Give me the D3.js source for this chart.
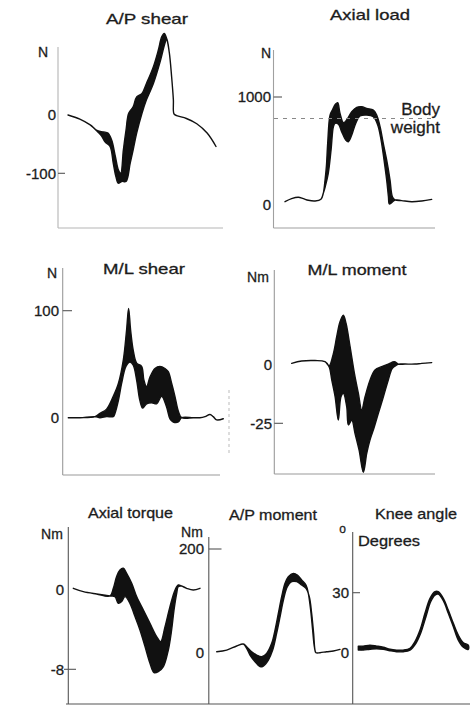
<!DOCTYPE html>
<html><head><meta charset="utf-8">
<script src="https://cdn.jsdelivr.net/npm/d3@7"></script>
<style>
html,body{margin:0;padding:0;background:#fff;}
svg{display:block;}
text{font-family:"Liberation Sans",Arial,Helvetica,sans-serif;fill:#1c1c1c;stroke:#1c1c1c;stroke-width:0.3px;}
</style></head><body>
<svg id="chart" width="470" height="706"></svg>
<script>
// ---- data: [percent of cycle, value] ----
const gaitDomain = [0, 100];

const apShearUpper = [[0,0],[8,-7],[15,-17],[20,-27],[24,-29],[27,-31],[29.5,-43],[32,-71],[34,-94],[35.6,-100],[37.4,-60],[39.2,-26],[41,3],[44,14],[46.4,31],[50,37],[53,54],[57.7,83],[61,111],[63.3,134],[65,140],[66.7,131],[68.5,106],[70,66],[71.2,26],[71.6,2],[73.4,-1],[80,-6],[87,-15],[94,-31],[100,-54]];
const apShearLower = [[0,0],[8,-7],[15,-17],[20.5,-30],[22.7,-36],[25,-46],[28.4,-54],[30.6,-83],[32.4,-106],[34,-117],[36.3,-114],[39.2,-114],[42,-83],[44,-60],[46.4,-31],[50,3],[53,26],[57.7,54],[62,89],[65.5,123],[66.7,131],[68.5,106],[70,66],[71.2,26],[71.6,2],[73.4,-1],[80,-6],[87,-15],[94,-31],[100,-54]];
const apShearTicks = [0, -100];

const axialLoadUpper = [[0,26],[4.5,54],[9.1,67],[12.5,54],[15.9,39],[20.5,33],[24.5,48],[26.1,104],[27.3,228],[28.2,352],[29.1,569],[30.7,832],[32.3,879],[34.5,935],[35.9,947],[37.5,848],[39.8,761],[42,786],[45.5,863],[48.9,904],[52.3,910],[55.7,894],[60.2,879],[62.5,832],[64.8,724],[67,569],[69.3,414],[71.6,228],[73.2,73],[75,42],[79.5,36],[86.4,26],[93.2,33],[100,48]];
const axialLoadLower = [[0,26],[4.5,54],[9.1,67],[12.5,54],[15.9,39],[20.5,33],[24.5,48],[26.1,104],[27.5,170],[29.5,290],[31.4,507],[33,724],[34.1,755],[36.4,748],[38.6,678],[41.4,600],[43.2,584],[45.5,646],[48.2,755],[51.1,823],[55.7,832],[60.2,817],[63.2,740],[65.5,600],[67.5,414],[69.3,228],[70.5,73],[71.1,5],[72.7,17],[75,42],[79.5,36],[86.4,26],[93.2,33],[100,48]];
const axialLoadTicks = [0, 1000];
const bodyWeight = [800];

const mlShearUpper = [[0,0],[7.5,0],[17.2,1],[20.4,4],[24.7,8],[29,20],[32.3,32],[35.5,54],[37.6,82],[38.9,102],[40.2,82],[41.9,63],[44.1,51],[47.3,48],[48.8,35],[50.5,29],[52.7,38],[55.9,46],[59.1,48],[62.4,46],[64.5,43],[66.7,32],[68.8,20],[71,6],[73.1,0],[80.6,0],[84.9,0],[88.2,1],[91.4,3],[93.5,1],[95.7,-2],[100,-1]];
const mlShearLower = [[0,0],[7.5,0],[17.2,1],[20.4,0],[24.7,1],[29,1],[30.1,4],[32.3,16],[34.4,32],[37.2,48],[39.8,52],[41.9,49],[44.1,35],[46.2,16],[48,9],[50.5,13],[53.8,14],[57,13],[60.2,20],[63.4,10],[65.6,-1],[67.7,-4],[71,-4],[73.1,0],[80.6,0],[84.9,0],[88.2,1],[91.4,3],[93.5,1],[95.7,-2],[100,-1]];
const mlShearTicks = [0, 100];

const mlMomentUpper = [[0,0.7],[7.1,1.7],[16.7,1.9],[23.8,1.4],[26.7,-0.4],[29.8,5],[32.1,12],[34.5,18.6],[36.9,21.4],[38.8,17.9],[41.7,7.9],[44.8,-3.6],[47.6,-12.1],[50,-19.3],[52.4,-13.6],[56,-6.4],[59.5,-2.1],[64.3,-0.7],[69,0.4],[73.3,1.4],[76.2,0.4],[81,0.4],[88.1,0.4],[92.9,0.7],[100,1]];
const mlMomentLower = [[0,0.7],[7.1,1.7],[16.7,1.9],[23.8,1.4],[26.7,-0.7],[28.6,-6.4],[31,-13.6],[33.3,-23.6],[35.2,-13.6],[36.9,-12.1],[39.3,-17.9],[40.5,-25.7],[42.9,-23.6],[45.2,-29.3],[48.1,-36.4],[51.2,-46],[53.6,-37.9],[56,-32],[58.3,-27.9],[61.9,-20.7],[65.5,-13.6],[69,-6.4],[71.9,-1.4],[75,0],[76.2,0.4],[81,0.4],[88.1,0.4],[92.9,0.7],[100,1]];
const mlMomentTicks = [0, -25];

const axialTorqueUpper = [[0,0.1],[7.9,-0.23],[18.4,-0.47],[28.9,-0.67],[31.6,0.1],[34.2,1.27],[36.8,1.93],[39.5,2.1],[42.1,1.6],[46.1,0.6],[50,-0.73],[55.3,-2.07],[60.5,-3.4],[65.8,-4.73],[68.9,-5.23],[72.4,-3.73],[76.3,-1.73],[80.3,-0.07],[82.9,0.43],[85.5,0.33],[89.5,0.1],[94.7,-0.07],[100,0.1]];
const axialTorqueLower = [[0,0.1],[7.9,-0.23],[18.4,-0.47],[28.9,-0.67],[32.9,-0.73],[35.5,-1.4],[38.2,-1.23],[40.8,-0.73],[44.7,-1.4],[48.7,-2.73],[52.6,-4.07],[56.6,-5.73],[60.5,-7.4],[63.7,-8.33],[67.1,-8.23],[71.1,-7.73],[75,-6.07],[77.6,-4.07],[79.5,-2.07],[81.6,-0.4],[82.9,0.27],[85.5,0.33],[89.5,0.1],[94.7,-0.07],[100,0.1]];
const axialTorqueTicks = [0, -8];

const apMomentUpper = [[0,1.9],[8.1,5.1],[16.2,12.9],[21.6,16.7],[24.3,11.6],[28.4,1.9],[32.4,-4.5],[36.5,-7.7],[40.5,-1.3],[44.6,18],[47.3,43.7],[50,75.9],[52.7,108],[55.4,133.8],[58.1,146.6],[62.2,153],[65.4,149.8],[68.9,140.2],[72.4,130.5],[74.3,114.5],[76.2,82.3],[77.8,43.7],[79.2,11.6],[80.5,0],[83.8,0],[89.2,1.9],[94.6,3.2],[100,6.4]];
const apMomentLower = [[0,1.9],[8.1,5.1],[16.2,12.9],[21.6,16.7],[24.3,8.4],[27,-4.5],[31.1,-17.4],[35.1,-27],[37.8,-25.7],[41.9,-14.1],[45.4,5.1],[48.6,37.3],[51.4,69.5],[54.1,101.6],[57.3,127.3],[60.8,137],[64.9,137],[68.9,130.5],[72.4,124.1],[75.1,108],[77,75.9],[78.6,37.3],[79.7,5.1],[80.5,0],[83.8,0],[89.2,1.9],[94.6,3.2],[100,6.4]];
const apMomentTicks = [0, 200];

const kneeAngleUpper = [[0,3.3],[4.5,3.3],[10.6,3.8],[16.7,3.3],[22.7,2.7],[28.8,1.7],[34.8,1.3],[40.9,1.3],[47,2.2],[51.5,5.5],[56.1,11.3],[60.6,19.7],[65.2,27.2],[69.7,30.5],[72.7,30.5],[77.3,27.2],[81.8,21.3],[86.4,14.7],[90.9,8.8],[95.5,5],[100,3.8]];
const kneeAngleLower = [[0,1.3],[4.5,1.3],[10.6,1.7],[16.7,2],[22.7,1.7],[28.8,1],[34.8,0.5],[40.9,0.5],[47,1.3],[52.4,4.7],[56.7,9.7],[61.5,18],[65.8,25.5],[69.7,28.8],[72.7,29.3],[77.3,26],[81.8,19.7],[86.4,13],[90.9,6.3],[95.5,2.7],[100,1.7]];
const kneeAngleTicks = [0, 30];

// ---- layout ----
const panels = [
  {title:"A/P shear", tp:[147,24,82], unit:"N", up:[43,57], axX:58, axY:[47,228],
   xr:[68,216], yr:[115,173.3], ticks:apShearTicks, mark:1, lr:56, tl:[58,65],
   upper:apShearUpper, lower:apShearLower, ac:"#b5b5b5", base:[228,58,223]},
  {title:"Axial load", tp:[370,20,80], unit:"N", up:[266,58], axX:273.5, axY:[50,228],
   xr:[285,431.7], yr:[204.5,97], ticks:axialLoadTicks, mark:1, lr:271, tl:[273.5,282],
   upper:axialLoadUpper, lower:axialLoadLower, ac:"#a0a0a0", base:[228,273.5,435]},
  {title:"M/L shear", tp:[144,274,82], unit:"N", up:[52,278], axX:62.7, axY:[268,475],
   xr:[68.3,223.3], yr:[417.7,310.7], ticks:mlShearTicks, mark:1, lr:59, tl:[62.7,72],
   upper:mlShearUpper, lower:mlShearLower, ac:"#9a9a9a", base:[475,62.7,220]},
  {title:"M/L moment", tp:[357,275,99], unit:"Nm", up:[258,282], axX:274.3, axY:[270,474],
   xr:[291.7,431.7], yr:[365,423.3], ticks:mlMomentTicks, mark:1, lr:272, tl:[274.3,283],
   upper:mlMomentUpper, lower:mlMomentLower, ac:"#9a9a9a", base:[474,274.3,435]},
  {title:"Axial torque", tp:[130.5,518,85], unit:"Nm", up:[52,539], axX:68.3, axY:[527,704],
   xr:[73.3,200], yr:[589.3,669.3], ticks:axialTorqueTicks, mark:1, lr:64, tl:[64,76],
   upper:axialTorqueUpper, lower:axialTorqueLower, ac:"#555", base:null},
  {title:"A/P moment", tp:[273,520,88], unit:"Nm", up:[192,537], axX:208.8, axY:[537,704],
   xr:[216.7,340], yr:[652.7,549], ticks:apMomentTicks, mark:1, lr:204, tl:[208.8,221.5],
   upper:apMomentUpper, lower:apMomentLower, ac:"#555", base:null},
  {title:"Knee angle", tp:[416,519,82], unit:"o", up:[342.5,533], axX:352.7, axY:[532,704],
   xr:[358.3,468.3], yr:[652.7,592.7], ticks:kneeAngleTicks, mark:1, lr:349, tl:[352.7,360],
   upper:kneeAngleUpper, lower:kneeAngleLower, ac:"#555", base:null}
];

const svg = d3.select("#chart");

panels.forEach(p => {
  const g = svg.append("g");
  const x = d3.scaleLinear().domain(gaitDomain).range(p.xr);
  const y = d3.scaleLinear().domain([p.ticks[0], p.ticks[1]]).range(p.yr);

  g.append("line").attr("x1",p.axX).attr("x2",p.axX).attr("y1",p.axY[0]).attr("y2",p.axY[1])
    .attr("stroke",p.ac).attr("stroke-width",1.1);
  if (p.base) g.append("line").attr("x1",p.base[1]).attr("x2",p.base[2]).attr("y1",p.base[0]).attr("y2",p.base[0])
    .attr("stroke",p.ac).attr("stroke-width",1.1);

  p.ticks.forEach((t,i) => {
    if (i === p.mark) {
      g.append("line").attr("x1",p.tl[0]).attr("x2",p.tl[1]).attr("y1",y(t)).attr("y2",y(t))
        .attr("stroke","#555").attr("stroke-width",1.1);
    }
    g.append("text").attr("x",p.lr).attr("y",y(t)+5.2).attr("text-anchor","end")
      .attr("font-size",15).text(String(t));
  });

  g.append("text").attr("x",p.up[0]).attr("y",p.up[1]).attr("text-anchor","middle")
    .attr("font-size", p.unit === "o" ? 12 : 14).text(p.unit);
  g.append("text").attr("x",p.tp[0]).attr("y",p.tp[1]).attr("text-anchor","middle")
    .attr("font-size",14.5).attr("textLength",p.tp[2]).attr("lengthAdjust","spacingAndGlyphs").text(p.title);

  const line = d3.line().x(d=>x(d[0])).y(d=>y(d[1])).curve(d3.curveCatmullRom.alpha(0.5));
  g.append("path").attr("d", line(p.upper.concat(p.lower.slice().reverse())) + "Z")
    .attr("fill","#111").attr("stroke","#111").attr("stroke-width",1.4).attr("stroke-linejoin","round");

  p.x = x; p.y = y;
});

const pl = panels[1];
svg.append("line").attr("x1",274).attr("x2",432).attr("y1",pl.y(bodyWeight[0])).attr("y2",pl.y(bodyWeight[0]))
  .attr("stroke","#888").attr("stroke-width",1).attr("stroke-dasharray","4,5");
svg.append("text").attr("x",440).attr("y",115).attr("text-anchor","end").attr("font-size",17).text("Body");
svg.append("text").attr("x",440).attr("y",133).attr("text-anchor","end").attr("font-size",17).text("weight");

svg.append("text").attr("x",358).attr("y",546).attr("font-size",14).attr("textLength",62).attr("lengthAdjust","spacingAndGlyphs").text("Degrees");

svg.append("line").attr("x1",66).attr("x2",470).attr("y1",704).attr("y2",704).attr("stroke","#555").attr("stroke-width",1.1);
svg.append("line").attr("x1",229).attr("x2",229).attr("y1",390).attr("y2",455).attr("stroke","#bbb").attr("stroke-width",1).attr("stroke-dasharray","3,3");
</script>
</body></html>
